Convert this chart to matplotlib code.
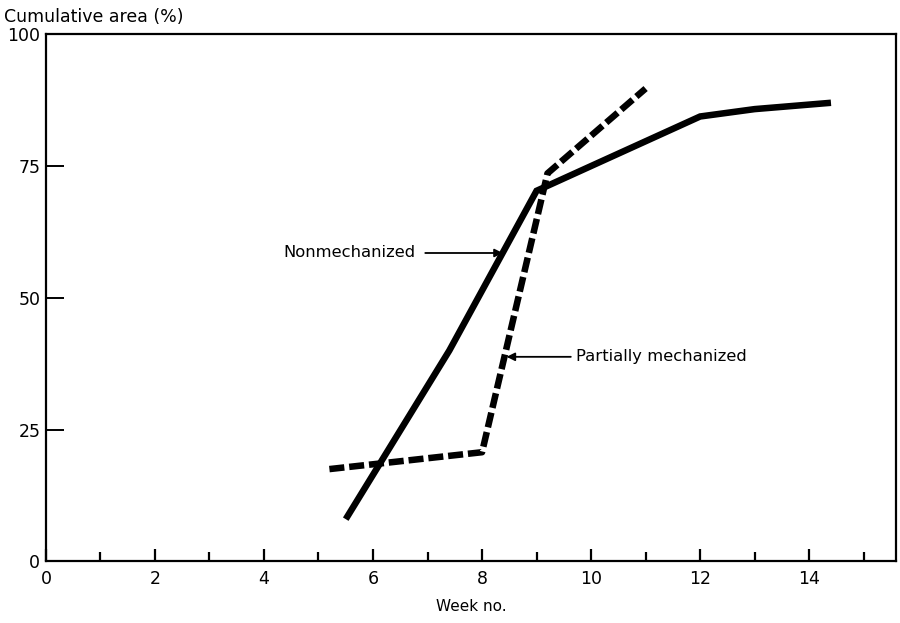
import numpy as np
import matplotlib
matplotlib.use('Agg')
import matplotlib.pyplot as plt

# Values
week_nonmech = [5.5, 7.4, 9.0, 12.0, 13.0, 14.4]
area_nonmech = [8.0, 40.0, 70.3, 84.4, 85.8, 87.0]

week_partial = [5.2, 8.0, 9.2, 11.0]
area_partial = [17.5, 20.7, 73.6, 89.7]

xticks_major = [0, 2, 4, 6, 8, 10, 12, 14]
xticks_minor = [1, 3, 5, 7, 9, 11, 13, 15]
yticks = [0, 25, 50, 75, 100]

plt.rcParams['font.family'] = 'DejaVu Sans'

fig = plt.figure(figsize=(9, 6.23), dpi=100)
ax = fig.add_axes([0.051, 0.099, 0.945, 0.846])

ax.plot(week_nonmech, area_nonmech, color='black', linewidth=4.7, solid_capstyle='butt',
        solid_joinstyle='miter')
ax.plot(week_partial, area_partial, color='black', linewidth=4.7, linestyle=(0, (2.3, 0.75)),
        dash_capstyle='butt')

ax.set_xlim(0, 15.6)
ax.set_ylim(0, 100)
ax.set_xticks(xticks_major)
ax.set_xticks(xticks_minor, minor=True)
ax.set_yticks(yticks)
ax.tick_params(axis='x', which='major', direction='in', length=9, width=1.6, labelsize=12.5, pad=6)
ax.tick_params(axis='x', which='minor', direction='in', length=6.5, width=1.6)
ax.tick_params(axis='y', which='major', direction='in', length=13, width=1.4, labelsize=12.5, pad=4)
for s in ax.spines.values():
    s.set_linewidth(1.6)

ax.set_xlabel('Week no.', fontsize=11, labelpad=8)
fig.text(0.004, 0.972, 'Cumulative area (%)', fontsize=12.5, ha='left', va='center')

# Annotations
ax.annotate('Nonmechanized', xy=(8.38, 58.5), xytext=(6.78, 58.5),
            fontsize=11.8, ha='right', va='center',
            arrowprops=dict(arrowstyle='-|>', color='black', lw=1.3, shrinkA=5, shrinkB=0,
                            mutation_scale=12))
ax.annotate('Partially mechanized', xy=(8.45, 38.8), xytext=(9.73, 38.8),
            fontsize=11.8, ha='left', va='center',
            arrowprops=dict(arrowstyle='-|>', color='black', lw=1.3, shrinkA=2, shrinkB=0,
                            mutation_scale=12))

fig.savefig('out.png', dpi=100)
